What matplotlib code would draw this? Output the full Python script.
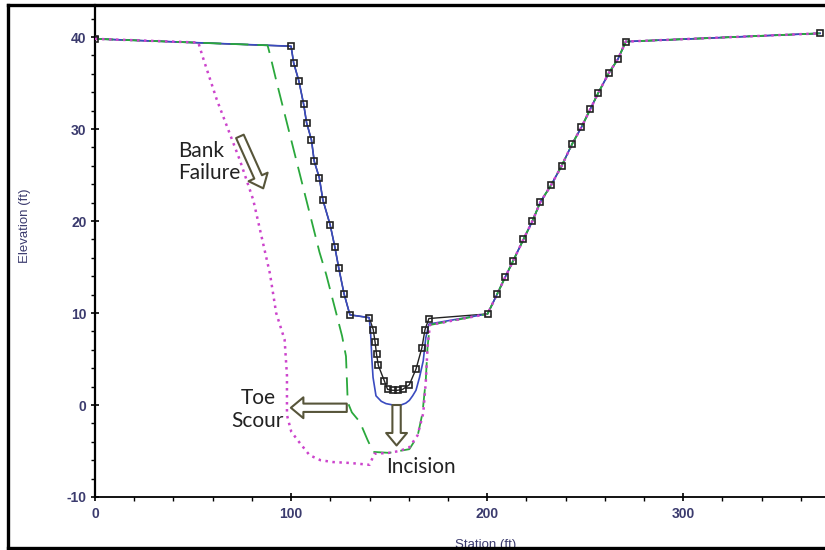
import matplotlib
matplotlib.use("Agg")
import matplotlib.pyplot as plt
from matplotlib.lines import Line2D
from matplotlib.ticker import MultipleLocator

plt.rcParams['axes.unicode_minus'] = False
plt.rcParams['font.family'] = ['Liberation Sans', 'DejaVu Sans']

# --- datos (Station ft, Elevation ft) ---
# margen izquierdo comun (terreno existente hasta la berma)
bank_left_x = [0, 100, 101.3, 104, 106.4, 107.9, 110.4, 111.8, 114.4, 116.2,
               119.9, 122.3, 124.3, 127.0, 130.0, 139.8]
bank_left_y = [39.8, 39.0, 37.2, 35.2, 32.7, 30.7, 28.8, 26.5, 24.7, 22.3,
               19.6, 17.2, 14.9, 12.1, 9.8, 9.5]

# cauce existente
ground_bed_x = [141.9, 142.8, 143.6, 144.5, 147.6, 149.2, 151.8, 154.3, 156.9,
                160.3, 163.7, 166.7, 168.3, 170.3]
ground_bed_y = [8.2, 6.9, 5.5, 4.3, 2.6, 1.7, 1.6, 1.6, 1.7, 2.2, 3.9, 6.2, 8.2, 9.4]

# cauce con incision (linea azul)
blue_bed_x = [140.5, 141.2, 141.8, 143.3, 146.0, 148.4, 152.0, 156.0, 158.5,
              160.3, 162.0, 163.7, 165.5, 167.4, 168.7, 170.3]
blue_bed_y = [8.1, 5.0, 3.0, 1.0, 0.4, 0.15, 0.0, 0.0, 0.2, 0.5, 1.0, 1.6, 3.0,
              4.8, 7.3, 8.8]

# socavacion al pie (linea verde)
green_x = [0, 88, 89, 92.4, 100.9, 114.5, 117.9, 123.0, 126.0, 128.0, 128.9,
           131.0, 135.1, 139.0, 141.9, 150.0, 155.2, 160.3, 164.5, 167.0, 168.7,
           169.6, 170.8]
green_y = [39.8, 39.1, 38.3, 35.3, 28.1, 16.6, 14.2, 10.0, 7.5, 5.3, 0.3, -0.8,
           -1.85, -3.8, -5.1, -5.2, -5.0, -4.8, -3.4, -0.9, 2.7, 6.3, 8.7]

# falla del talud (linea magenta)
magenta_x = [0, 52.7, 55.0, 62.1, 73.9, 80.7, 89.2, 92.4, 96.7, 97.9, 97.9,
             100.1, 104.0, 109.4, 115.0, 121.3, 130.0, 140.0, 142.5, 150.0,
             155.2, 160.3, 164.5, 167.4, 168.7, 169.6, 170.8]
magenta_y = [39.8, 39.4, 37.8, 33.2, 26.6, 22.3, 14.3, 10.0, 7.1, 3.2, -1.1,
             -2.9, -4.0, -5.45, -6.0, -6.2, -6.3, -6.5, -5.3, -5.2, -5.0, -4.6,
             -3.3, -0.9, 2.5, 6.3, 8.7]

# margen derecho comun
right_x = [200.2, 205.2, 209.2, 213.2, 218.5, 223.1, 227.1, 232.6, 238.0, 243.4,
           248.1, 252.7, 256.6, 262.1, 266.7, 270.7, 369.8]
right_y = [9.9, 12.1, 13.9, 15.65, 18.0, 20.0, 22.05, 23.9, 26.0, 28.4, 30.2,
           32.2, 33.9, 36.1, 37.6, 39.5, 40.4]

ground_x = bank_left_x + ground_bed_x + right_x
ground_y = bank_left_y + ground_bed_y + right_y
blue_x = bank_left_x + blue_bed_x + right_x
blue_y = bank_left_y + blue_bed_y + right_y
green_x = green_x + right_x
green_y = green_y + right_y
magenta_x = magenta_x + right_x
magenta_y = magenta_y + right_y

W, H = 825, 550
fig = plt.figure(figsize=(W / 100, H / 100), dpi=100)
ax = fig.add_axes([95 / W, 1 - 497 / H, 1 - 95 / W, (497 - 5) / H])

ax.plot(ground_x, ground_y, color='#222222', lw=1.0, zorder=2)
ax.plot(blue_x, blue_y, color='#3a4bc0', lw=1.2, zorder=3)
ax.plot(green_x, green_y, color='#2aa83c', lw=1.3, dashes=(10, 5), zorder=3)
ax.plot(magenta_x, magenta_y, color='#cc44cc', lw=1.8, dashes=(1, 1.8), zorder=3)
ax.plot(ground_x, ground_y, linestyle='none', marker='s', ms=5, mfc='none',
        mec='#222222', mew=1.2, zorder=4)

ax.set_xlim(0, 372.3)
ax.set_ylim(-10, 43.48)
ax.xaxis.set_major_locator(MultipleLocator(100))
ax.xaxis.set_minor_locator(MultipleLocator(20))
ax.yaxis.set_major_locator(MultipleLocator(10))
ax.yaxis.set_minor_locator(MultipleLocator(2))
ax.tick_params(which='major', direction='inout', length=6, width=1.2,
               labelcolor='#3b3b6e', labelsize=10)
ax.tick_params(which='minor', direction='out', length=3, width=1.0)
ax.tick_params(axis='x', pad=4)
ax.tick_params(axis='y', pad=3)
plt.setp(ax.get_xticklabels() + ax.get_yticklabels(), fontweight='bold')

ax.spines['top'].set_visible(False)
ax.spines['right'].set_visible(False)
ax.spines['left'].set_linewidth(1.6)
ax.spines['bottom'].set_linewidth(1.3)

fig.text(25 / W, 1 - 226 / H, 'Elevation (ft)', rotation=90, ha='center',
         va='center', fontsize=9.5, color='#3b3b6e')
fig.text(486 / W, 1 - 539 / H, 'Station (ft)', ha='center', va='top',
         fontsize=9.5, color='#3b3b6e')

# anotaciones
txt = dict(family=['Lato', 'DejaVu Sans'], fontsize=15, color='#222222',
           linespacing=1.15)
ax.text(42.3, 28.7, 'Bank\nFailure', ha='left', va='top', **txt)
ax.text(83.1, 1.8, 'Toe\nScour', ha='center', va='top', **txt)
ax.text(148.7, -5.6, 'Incision', ha='left', va='top', **txt)

arrow = dict(arrowstyle='simple,head_length=0.9,head_width=1.5,tail_width=0.6',
             fc='white', ec='#57553a', lw=1.5, mutation_scale=10,
             shrinkA=0, shrinkB=0)
ax.annotate('', xy=(85.8, 23.55), xytext=(73.9, 29.2), arrowprops=arrow, zorder=5)
ax.annotate('', xy=(99.9, -0.3), xytext=(128.4, -0.3), arrowprops=arrow, zorder=5)
ax.annotate('', xy=(153.8, -4.4), xytext=(153.8, 0.0), arrowprops=arrow, zorder=5)

# marco exterior de la imagen
for xs, ys in [([8 / W, 8 / W], [0, 1 - 5 / H]),
               ([8 / W, 1], [1 - 5 / H, 1 - 5 / H]),
               ([8 / W, 1], [1 - 548 / H, 1 - 548 / H])]:
    fig.add_artist(Line2D(xs, ys, transform=fig.transFigure, color='black',
                          lw=2.4, zorder=10))

fig.savefig('out.png', dpi=100)
